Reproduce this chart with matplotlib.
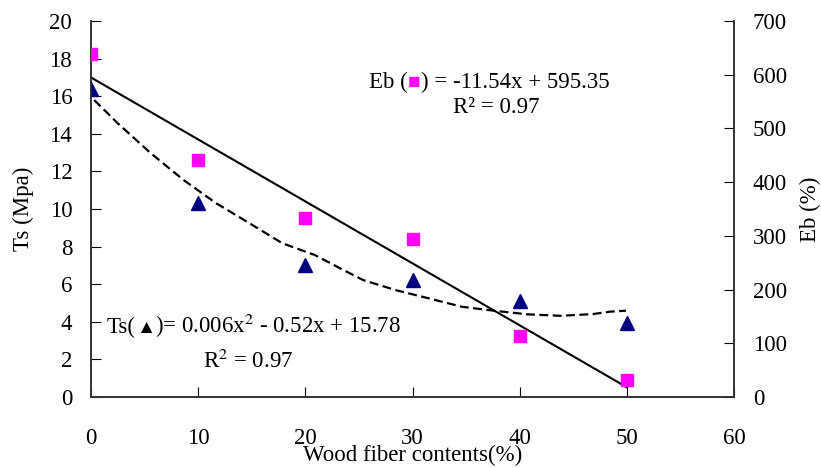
import matplotlib.pyplot as plt
from matplotlib.offsetbox import TextArea, HPacker, AnnotationBbox

plt.rcParams['font.family'] = ['Liberation Serif', 'DejaVu Sans']
plt.rcParams['font.size'] = 16.5
plt.rcParams['mathtext.fontset'] = 'stix'

# measured data
fiber = [0, 10, 20, 30, 40, 50]
ts_vals = [16.4, 10.3, 7.0, 6.2, 5.1, 3.95]
eb_vals = [638, 441, 333, 295, 113, 32]

# Eb linear trend end points (right axis)
eb_fit_x = [0, 50]
eb_fit_y = [595, 18]

# Ts trend curve as drawn (left axis)
ts_curve_x = [0.3, 2.5, 5.6, 8.65, 11.7, 14.8, 17.85, 20.9, 23.4, 25.4, 28.4,
              31.5, 34.6, 37.6, 40.7, 43.8, 46.8, 48.4, 49.9]
ts_curve_y = [15.8, 14.56, 12.96, 11.54, 10.3, 9.24, 8.18, 7.55, 6.8, 6.22, 5.69,
              5.25, 4.8, 4.59, 4.4, 4.32, 4.41, 4.54, 4.59]

fig = plt.figure(figsize=(8.21, 4.68), dpi=100)
ax = fig.add_axes([0.1108, 0.1517, 0.7834, 0.8033])
ax2 = ax.twinx()

ax.plot(ts_curve_x, ts_curve_y, color='black', lw=1.6, ls=(0, (4, 2)))
ax.plot(fiber, ts_vals, ls='none', marker='^', ms=9.5, color='#000080', zorder=5)
ax2.plot(eb_fit_x, eb_fit_y, color='black', lw=1.5)
ax2.plot(fiber, eb_vals, ls='none', marker='s', ms=8.5, color='#ff00ff', zorder=5)

ax.set_xlim(0, 60)
ax.set_ylim(0, 20)
ax2.set_ylim(0, 700)
ax.set_xticks(range(0, 61, 10))
ax.set_yticks(range(0, 21, 2))
ax2.set_yticks(range(0, 701, 100))

ax.tick_params(axis='x', direction='in', length=7, pad=22)
ax.tick_params(axis='y', direction='in', length=7, pad=13.5)
ax2.tick_params(axis='y', direction='in', length=7, pad=13.5)
for a in (ax, ax2):
    a.spines['top'].set_visible(False)
    for s in a.spines.values():
        s.set_linewidth(1.2)
        s.set_color('#333333')

ax.set_xlabel('Wood fiber contents(%)', labelpad=-3)
ax.set_ylabel('Ts (Mpa)', labelpad=11)
ax2.set_ylabel('Eb (%)', labelpad=9)


def equation(parts, x, y):
    boxes = [TextArea(s, textprops=dict(color=c, fontsize=fs)) for s, c, fs in parts]
    pack = HPacker(children=boxes, align='baseline', pad=0, sep=0)
    ab = AnnotationBbox(pack, (x, y), xycoords='axes fraction', frameon=False,
                        box_alignment=(0, 0.5), pad=0)
    ax.add_artist(ab)


equation([('Eb (', 'black', 16.5), ('\u25a0', '#ff00ff', 15),
          (') = -11.54x + 595.35', 'black', 16.5)], 0.4325, 0.838)
ax.text(0.63, 0.77, 'R\u00b2 = 0.97', transform=ax.transAxes, ha='center',
        va='center')

equation([('Ts(', 'black', 16.5), ('\u25b2', 'black', 14),
          (')= 0.006x$^{2}$ - 0.52x + 15.78', 'black', 16.5)], 0.0245, 0.189)
ax.text(0.244, 0.094, 'R$^{2}$ = 0.97', transform=ax.transAxes, ha='center',
        va='center')

fig.savefig('out.png', dpi=100)
